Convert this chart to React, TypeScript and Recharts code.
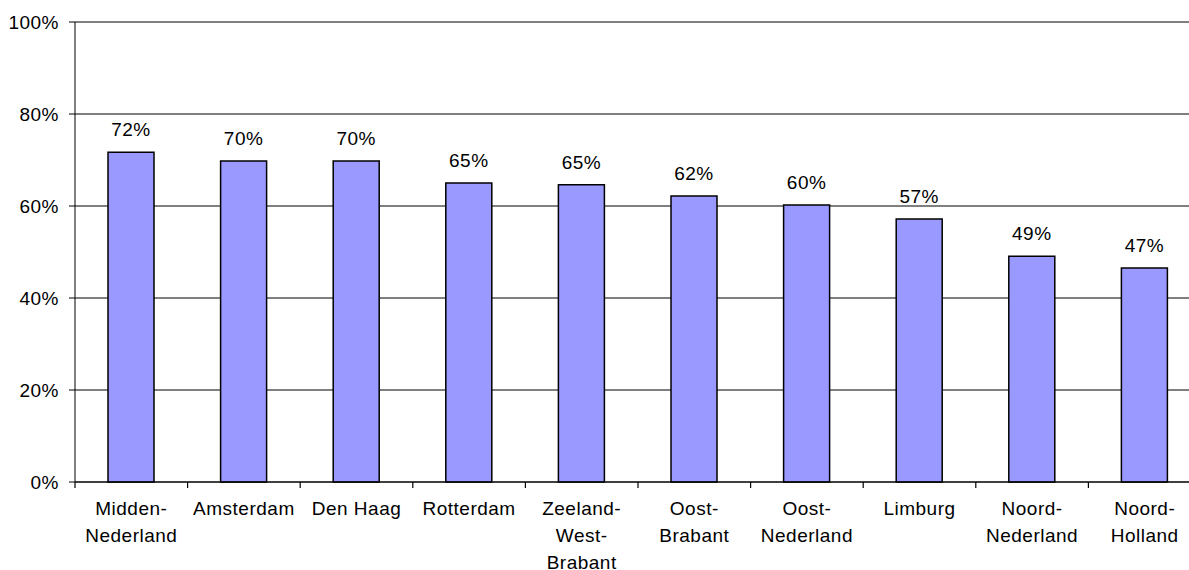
import React from 'react';
import { BarChart, Bar, XAxis, YAxis, CartesianGrid, LabelList } from 'recharts';

const regions = [
  'Midden-Nederland',
  'Amsterdam',
  'Den Haag',
  'Rotterdam',
  'Zeeland-West-Brabant',
  'Oost-Brabant',
  'Oost-Nederland',
  'Limburg',
  'Noord-Nederland',
  'Noord-Holland',
];
const shares = [71.7, 69.8, 69.8, 65.0, 64.6, 62.2, 60.2, 57.2, 49.1, 46.5];
const yTicks = [0, 20, 40, 60, 80, 100];

const data = regions.map((name, i) => ({ name, value: shares[i] }));

const FONT = '"Liberation Sans", Arial, sans-serif';
const FS = 19;

// category label, plus a short tick mark on the left edge of the band
const CategoryTick = ({ x, y, payload }: any) => {
  const lines: string[] = String(payload.value).split(/(?<=-)/);
  const half = payload.offset || 0;
  return (
    <g>
      <line x1={x - half} x2={x - half} y1={y} y2={y + 6} stroke="#000" strokeWidth={1.2} />
      <text x={x} y={y} textAnchor="middle" fontFamily={FONT} fontSize={FS} fill="#000" letterSpacing={0.5}>
        {lines.map((l, i) => (
          <tspan key={i} x={x} dy={i === 0 ? 33 : 27}>
            {l}
          </tspan>
        ))}
      </text>
    </g>
  );
};

const ValueLabel = ({ x, y, width, value }: any) => (
  <text x={x + width / 2} y={y - 16} textAnchor="middle" fontFamily={FONT} fontSize={FS} fill="#000" letterSpacing={0.5}>
    {`${Math.round(value)}%`}
  </text>
);

const App: React.FC = () => {
  return (
    <div style={{ position: 'absolute', left: 0, top: 0, width: 1189, height: 570, overflow: 'hidden', background: '#fff' }}>
      <BarChart width={1205} height={570} data={data} margin={{ top: 22, right: 4, left: 0, bottom: 0 }}>
        <CartesianGrid vertical={false} stroke="#000" strokeWidth={1} />
        <XAxis
          dataKey="name"
          height={88}
          axisLine={{ stroke: '#000' }}
          tickLine={false}
          tickSize={0}
          tickMargin={0}
          interval={0}
          tick={<CategoryTick />}
        />
        <YAxis
          width={75}
          domain={[0, 100]}
          ticks={yTicks}
          tickFormatter={(v) => `${v}%`}
          axisLine={{ stroke: '#000' }}
          tickLine={{ stroke: '#000' }}
          tickSize={6}
          tickMargin={10}
          tick={{ fontFamily: FONT, fontSize: FS, fill: '#000', letterSpacing: 0.5 }}
        />
        <Bar dataKey="value" fill="#9999FF" stroke="#000" strokeWidth={1.5} barSize={46} isAnimationActive={false}>
          <LabelList dataKey="value" content={<ValueLabel />} />
        </Bar>
      </BarChart>
    </div>
  );
};

export default App;
